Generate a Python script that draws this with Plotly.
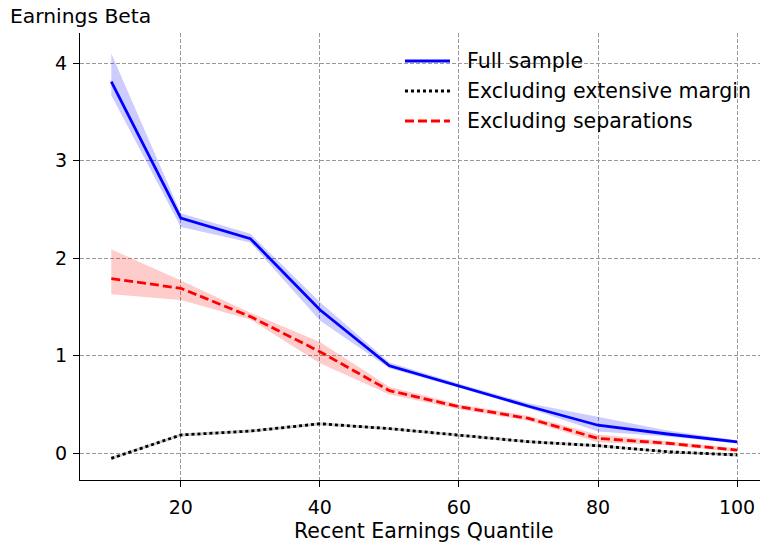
import plotly.graph_objects as go

quantiles = [10, 20, 30, 40, 50, 60, 70, 80, 90, 100]

full = [3.81, 2.41, 2.20, 1.47, 0.895, 0.69, 0.48, 0.285, 0.195, 0.115]
full_lo = [3.67, 2.32, 2.16, 1.36, 0.87, 0.67, 0.46, 0.22, 0.17, 0.10]
full_hi = [4.10, 2.46, 2.25, 1.55, 0.93, 0.71, 0.51, 0.37, 0.23, 0.13]

ext = [-0.055, 0.185, 0.225, 0.30, 0.25, 0.185, 0.116, 0.075, 0.013, -0.02]
ext_lo = [-0.07, 0.17, 0.21, 0.285, 0.235, 0.17, 0.10, 0.06, 0.0, -0.035]
ext_hi = [-0.04, 0.20, 0.24, 0.315, 0.265, 0.20, 0.13, 0.09, 0.026, -0.005]

sep = [1.79, 1.69, 1.40, 1.04, 0.64, 0.475, 0.355, 0.15, 0.10, 0.03]
sep_lo = [1.63, 1.57, 1.37, 0.92, 0.60, 0.45, 0.33, 0.11, 0.08, 0.01]
sep_hi = [2.09, 1.77, 1.44, 1.14, 0.68, 0.50, 0.38, 0.19, 0.12, 0.05]

series_names = ["Full sample", "Excluding extensive margin", "Excluding separations"]
series_colors = ["#0000ff", "#000000", "#ff0000"]
series_dash = ["solid", "3px,3px", "9px,4px"]

x_ticks = [20, 40, 60, 80, 100]
y_ticks = [0, 1, 2, 3, 4]

fig = go.Figure()

def band(lo, hi, color):
    fig.add_trace(go.Scatter(x=quantiles, y=hi, mode="lines", line=dict(width=0),
                             showlegend=False, hoverinfo="skip"))
    fig.add_trace(go.Scatter(x=quantiles, y=lo, mode="lines", line=dict(width=0),
                             fill="tonexty", fillcolor=color, showlegend=False, hoverinfo="skip"))

band(full_lo, full_hi, "rgba(0,0,255,0.2)")
band(ext_lo, ext_hi, "rgba(0,0,0,0.2)")
band(sep_lo, sep_hi, "rgba(255,0,0,0.2)")

for vals, name, color, dash in zip([full, ext, sep], series_names, series_colors, series_dash):
    fig.add_trace(go.Scatter(x=quantiles, y=vals, mode="lines", name=name,
                             line=dict(color=color, width=2.8, dash=dash), showlegend=False))

font = "DejaVu Sans, Liberation Sans, sans-serif"

# manual legend (paper coordinates)
shapes = []
annotations = []
legend_y = [0.9374, 0.8702, 0.8031]
for name, color, dash, ly in zip(series_names, series_colors, series_dash, legend_y):
    shapes.append(dict(type="line", xref="paper", yref="paper", x0=0.4779, x1=0.5441,
                       y0=ly, y1=ly, line=dict(color=color, width=2.8, dash=dash)))
    annotations.append(dict(text=name, xref="paper", yref="paper", x=0.5662, y=ly,
                            xanchor="left", yanchor="middle", showarrow=False,
                            font=dict(size=20.5)))

annotations.append(dict(text="Earnings Beta", xref="paper", yref="paper", x=0, y=1,
                        xanchor="left", yanchor="bottom", xshift=-72, yshift=3,
                        showarrow=False, font=dict(size=20.3)))
annotations.append(dict(text="Recent Earnings Quantile", xref="paper", yref="paper", x=0.506, y=0,
                        xanchor="center", yanchor="top", yshift=-37,
                        showarrow=False, font=dict(size=20.5)))

axis_common = dict(ticks="outside", ticklen=6, tickcolor="black", tickwidth=1,
                   showline=True, linecolor="black", linewidth=1,
                   showgrid=True, gridcolor="#9a9a9a", griddash="4px,2px", gridwidth=1,
                   zeroline=False, tickfont=dict(size=19))

fig.update_layout(
    width=760, height=547,
    margin=dict(l=80, r=0, t=33, b=67),
    paper_bgcolor="white", plot_bgcolor="white",
    font=dict(family=font, size=19, color="black"),
    showlegend=False,
    xaxis=dict(range=[5.5, 103.3], tickvals=x_ticks, ticklabelstandoff=4, **axis_common),
    yaxis=dict(range=[-0.277, 4.31], tickvals=y_ticks, ticklabelstandoff=2, **axis_common),
    shapes=shapes,
    annotations=annotations,
)

fig.write_html("out.html")
